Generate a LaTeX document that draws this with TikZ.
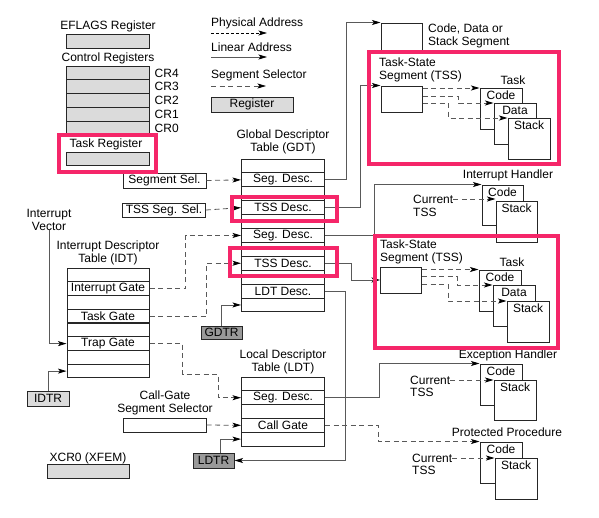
\documentclass[tikz,border=0pt]{standalone}
\usepackage{fontspec}
\setmainfont{Liberation Sans}
\usetikzlibrary{arrows.meta,positioning,calc}
\definecolor{hlpink}{RGB}{245,38,105}

\begin{document}
\begin{tikzpicture}[x = 1pt, y = -1pt,
  every node/.style = {font = {\fontsize{12}{13}\selectfont}, inner sep = 0pt},
  >={Stealth[length=8.5pt, width=5pt, inset=2pt, color=black]},
  box/.style = {draw = black!85, line width = 1pt, fill = white, minimum width = 83, minimum height = 14},
  reg/.style = {box, fill = black!14},
  dreg/.style = {box, fill = black!40, minimum width = 41},
  row/.style = {box, minimum height = 13.9},
  seg/.style = {draw = black!85, line width = 1pt, fill = white, minimum width = 42, minimum height = 41},
  lin/.style = {draw = black!65, line width = .8pt},
  dsh/.style = {lin, dash pattern = on 5pt off 3.5pt},
  phys/.style = {draw = black, line width = .8pt, dash pattern = on 2.5pt off 2.5pt},
  hl/.style = {draw = hlpink, line width = 4.7pt},
  ttl/.style = {align = center}]
  \useasboundingbox (0,0) rectangle (599,517);

  % registers on the left
  \node[ttl] (eflt) at (108,26) {EFLAGS Register};
  \node[reg] (efl) at (107.5,41) {};
  \node[ttl] (crt) at (108,58) {Control Registers};
  \node[reg, minimum height = 13.8] (cr4) at (107.5,72.9) {};
  \node[reg, minimum height = 13.8] (cr3) at (107.5,86.7) {};
  \node[reg, minimum height = 13.8] (cr2) at (107.5,100.5) {};
  \node[reg, minimum height = 13.8] (cr1) at (107.5,114.3) {};
  \node[reg, minimum height = 13.8] (cr0) at (107.5,128.1) {};
  \node[right = 5pt of cr4] (cr4l) {CR4};
  \node[right = 5pt of cr3] (cr3l) {CR3};
  \node[right = 5pt of cr2] (cr2l) {CR2};
  \node[right = 5pt of cr1] (cr1l) {CR1};
  \node[right = 5pt of cr0] (cr0l) {CR0};
  \node[ttl] (trt) at (106,144) {Task Register};
  \node[reg, minimum height = 13] (tr) at (107.5,158.5) {};

  % legend
  \node[anchor = west] (phyl) at (211,23) {Physical Address};
  \coordinate (phyA) at (211,33);
  \coordinate (phyB) at (267,33);
  \node[anchor = west] (linl) at (211,47) {Linear Address};
  \coordinate (linA) at (211,57);
  \coordinate (linB) at (267,57);
  \node[anchor = west] (ssl) at (211,75) {Segment Selector};
  \coordinate (ssA) at (211,86);
  \coordinate (ssB) at (266,86);
  \node[reg, minimum width = 82, minimum height = 15] (regl) at (252,104.5) {Register};
  \draw[phys, ->] (phyA) -- (phyB);
  \draw[lin, ->] (linA) -- (linB);
  \draw[dsh, ->] (ssA) -- (ssB);

  % GDT
  \node[ttl] (gdtt) at (283,142) {Global Descriptor\\Table (GDT)};
  \node[row] (gdt1) at (283,165.95) {};
  \node[row] (gdt2) at (283,179.85) {Seg. Desc.};
  \node[row] (gdt3) at (283,193.75) {};
  \node[row] (gdt4) at (283,207.65) {TSS Desc.};
  \node[row] (gdt5) at (283,221.55) {};
  \node[row] (gdt6) at (283,235.45) {Seg. Desc.};
  \node[row] (gdt7) at (283,249.35) {};
  \node[row] (gdt8) at (283,263.25) {TSS Desc.};
  \node[row] (gdt9) at (283,277.15) {};
  \node[row] (gdt10) at (283,291.05) {LDT Desc.};
  \node[row] (gdt11) at (283,304.95) {};
  \node[dreg, minimum height = 13] (gdtr) at (221.5,332.5) {GDTR};
  \node[box, minimum height = 15] (ssel) at (164.5,180.5) {Segment Sel.};
  \node[box] (tssel) at (164,210) {TSS Seg. Sel.};

  % IDT
  \node[ttl] (ivec) at (49,219.5) {Interrupt\\Vector};
  \node[ttl] (idtt) at (108,252.5) {Interrupt Descriptor\\Table (IDT)};
  \node[row, minimum width = 82, minimum height = 13.75] (idt1) at (108,274.9) {};
  \node[row, minimum width = 82, minimum height = 13.75] (idt2) at (108,288.6) {Interrupt Gate};
  \node[row, minimum width = 82, minimum height = 13.75] (idt3) at (108,302.4) {};
  \node[row, minimum width = 82, minimum height = 13.75] (idt4) at (108,316.1) {Task Gate};
  \node[row, minimum width = 82, minimum height = 13.75] (idt5) at (108,329.9) {};
  \node[row, minimum width = 82, minimum height = 13.75] (idt6) at (108,343.6) {Trap Gate};
  \node[row, minimum width = 82, minimum height = 13.75] (idt7) at (108,357.4) {};
  \node[row, minimum width = 82, minimum height = 13.75] (idt8) at (108,371.1) {};
  \node[reg, minimum width = 42, minimum height = 15] (idtr) at (48,398.5) {IDTR};

  % LDT
  \node[ttl] (ldtt) at (283,362) {Local Descriptor\\Table (LDT)};
  \node[row, minimum height = 13.8] (ldt1) at (283,383.9) {};
  \node[row, minimum height = 13.8] (ldt2) at (283,397.7) {Seg. Desc.};
  \node[row, minimum height = 13.8] (ldt3) at (283,411.5) {};
  \node[row, minimum height = 13.8] (ldt4) at (283,425.3) {Call Gate};
  \node[row, minimum height = 13.8] (ldt5) at (283,439.1) {};
  \node[ttl] (cgt) at (165,403) {Call-Gate\\Segment Selector};
  \node[box] (cgsel) at (164.5,425) {};
  \node[dreg, minimum height = 15] (ldtr) at (213.5,460.5) {LDTR};
  \node[ttl] (xcrt) at (88,458) {XCR0 (XFEM)};
  \node[reg, minimum width = 82] (xcr) at (88,471) {};

  % segments and tasks
  \node[seg, minimum width = 41, minimum height = 28] (cds) at (401.5,37) {};
  \node[anchor = west, align = left] (cdst) at (428,36) {Code, Data or\\Stack Segment};
  \node[anchor = west, align = left] (tssAt) at (379,69.5) {Task-State\\Segment (TSS)};
  \node[seg, minimum width = 41, minimum height = 26] (tssA) at (401.5,99) {};
  \node (taskA) at (513,80) {Task};
  \node[seg, label = {[anchor = north, yshift = -3pt]north:Code}] (codeA) at (501,109) {};
  \node[seg, label = {[anchor = north, yshift = -3pt]north:Data}] (dataA) at (515,124) {};
  \node[seg, label = {[anchor = north, yshift = -3pt]north:Stack}] (stackA) at (529,139) {};

  \node (iht) at (508,175) {Interrupt Handler};
  \node[seg, minimum width = 41, minimum height = 40, label = {[anchor = north, yshift = -3pt]north:Code}] (codeIH) at (502.5,205) {};
  \node[seg, minimum width = 41, label = {[anchor = north, yshift = -3pt]north:Stack}] (stackIH) at (516.5,221.5) {};
  \node[anchor = west] (curIH) at (413,199) {Current};
  \node[anchor = west] (curIHt) at (413,212) {TSS};

  \node[anchor = west, align = left] (tssBt) at (380,252) {Task-State\\Segment (TSS)};
  \node[seg, minimum width = 41, minimum height = 26] (tssB) at (401,280) {};
  \node (taskB) at (512,262) {Task};
  \node[seg, label = {[anchor = north, yshift = -3pt]north:Code}] (codeB) at (500,290.5) {};
  \node[seg, label = {[anchor = north, yshift = -3pt]north:Data}] (dataB) at (514,306) {};
  \node[seg, label = {[anchor = north, yshift = -3pt]north:Stack}] (stackB) at (528,322) {};

  \node (eht) at (508,355) {Exception Handler};
  \node[seg, label = {[anchor = north, yshift = -3pt]north:Code}] (codeEH) at (501,384.5) {};
  \node[seg, minimum height = 40, label = {[anchor = north, yshift = -3pt]north:Stack}] (stackEH) at (515,400) {};
  \node[anchor = west] (curEH) at (410,380) {Current};
  \node[anchor = west] (curEHt) at (410,392) {TSS};

  \node (ppt) at (507,432) {Protected Procedure};
  \node[seg, label = {[anchor = north, yshift = -3pt]north:Code}] (codePP) at (501,462.5) {};
  \node[seg, label = {[anchor = north, yshift = -3pt]north:Stack}] (stackPP) at (516,478.5) {};
  \node[anchor = west] (curPP) at (412,458) {Current};
  \node[anchor = west] (curPPt) at (412,470) {TSS};

  % connectors
  \draw[dsh, ->] (ssel.east) -- (gdt2.west);
  \draw[dsh, ->] (tssel.east) -- (gdt4.west);
  \draw[lin, ->] (gdt2.east) -- ++(21,0) |- (cds.north west);
  \draw[lin, ->] (gdt4.east) -- ++(35,0) |- (tssA.north west);
  \draw[lin, ->] (gdt6.east) -- ++(49,0) |- (codeIH.north west);
  \draw[lin, ->] (gdt8.east) -- ++(26,0) |- (tssB.west);
  \draw[lin, ->] (gdt10.east) -- ++(20,0) |- (ldtr.east);
  \draw[lin, ->] (gdtr.north) |- (gdt11.west);
  \draw[dsh, ->] (idt2.east) -- ++(36,0) |- (gdt6.west);
  \draw[dsh, ->] (idt4.east) -- ++(57,0) |- (gdt8.west);
  \draw[dsh, ->] (idt6.east) -- ++(33,0) |- ++(36,31) |- (ldt2.west);
  \draw[lin, ->] (ivec.south) |- (idt6.west);
  \draw[lin, ->] (idtr.north) |- (idt8.west);
  \draw[lin, ->] ($(ldtr.north)+(7,0)$) |- (ldt5.west);
  \draw[dsh, ->] (cgsel.east) -- (ldt4.west);
  \draw[lin, ->] (ldt2.east) -- ++(54,0) |- (codeEH.north west);
  \draw[dsh, ->] (ldt4.east) -- ++(53,0) |- (codePP.north west);
  \draw[dsh, ->] (tssA.east |- codeA.north west) -- (codeA.north west);
  \draw[dsh, ->] ($(tssA.north east)+(0,11)$) -- ++(36,0) |- (dataA.north west);
  \draw[dsh, ->] ($(tssA.north east)+(0,18)$) -- ++(26,0) |- (stackA.north west);
  \draw[dsh, ->] (tssB.east |- codeB.north west) -- (codeB.north west);
  \draw[dsh, ->] ($(tssB.north east)+(0,10)$) -- ++(35,0) |- (dataB.north west);
  \draw[dsh, ->] ($(tssB.north east)+(0,18)$) -- ++(26,0) |- (stackB.north west);
  \draw[dsh, ->] (curIH.east) -- (curIH.east -| stackIH.west);
  \draw[dsh, ->] (curEH.east) -- (curEH.east -| stackEH.west);
  \draw[dsh, ->] (curPP.east) -- (curPP.east -| stackPP.west);

  % highlights
  \draw[hl] (59,135) rectangle (156,172);
  \draw[hl] (232,197) rectangle (337,221);
  \draw[hl] (230,248) rectangle (337,276);
  \draw[hl] (369,52) rectangle (559,164);
  \draw[hl] (375,236) rectangle (558,348);
\end{tikzpicture}
\end{document}
